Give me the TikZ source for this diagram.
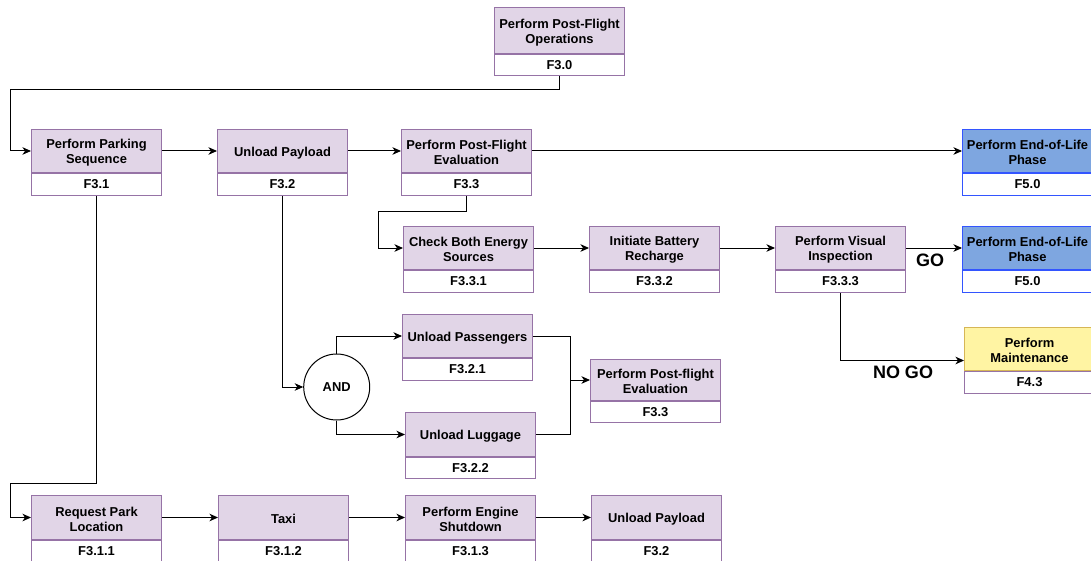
\documentclass[tikz,border=0pt]{standalone}
\usepackage{fontspec}
\setmainfont{Liberation Sans}
\usetikzlibrary{arrows.meta,calc}
\definecolor{pfill}{HTML}{E1D5E7}
\definecolor{pline}{HTML}{9673A6}
\definecolor{bfill}{HTML}{7EA6E0}
\definecolor{bline}{HTML}{3355FF}
\definecolor{yfill}{HTML}{FFF4A3}
\definecolor{yline}{HTML}{D6B656}
\tikzset{
  ttl/.style={draw=pline, fill=pfill, line width=1pt, minimum width=130,
    inner sep=0pt, anchor=north west},
  ttltext/.style={inner sep=0pt, align=center,
    font=\fontsize{12.9}{15}\selectfont\bfseries},
  idn/.style={draw=pline, fill=white, line width=1pt, minimum width=130,
    inner sep=0pt, anchor=north west,
    font=\fontsize{12.9}{15}\selectfont\bfseries},
  bluebox/.style={draw=bline, fill=bfill},
  yellowbox/.style={draw=yline, fill=yfill},
  flow/.style={line width=1pt, -{Stealth[length=8.5pt,width=7.5pt,inset=2.5pt]}},
  wire/.style={line width=1pt},
  verdict/.style={font=\fontsize{18}{20}\selectfont\bfseries},
}
% #1 name, #2 left, #3 top, #4 title height, #5 id height, #6 title, #7 id, #8 title style, #9 id style
\newcommand\funcblock[9]{%
  \node[ttl,#8,minimum height=#4] (#1) at (#2,#3) {};
  \node[ttltext] (#1-text) at ([yshift=-1.8]#1.center) {#6};
  \node[idn,#9,minimum height=#5] (#1-id) at (#1.south west) {#7};
  \coordinate (#1-mid) at ($(#1.north west)!0.5!(#1-id.south west)$);
}
\begin{document}
\begin{tikzpicture}[x=1pt,y=-1pt]
\useasboundingbox (0,0) rectangle (1091,561);

% top level
\funcblock{f30}{494}{7}{46}{21}{Perform Post-Flight\\Operations}{F3.0}{}{}

% first row
\funcblock{f31}{31}{129}{43}{22}{Perform Parking\\Sequence}{F3.1}{}{}
\funcblock{f32}{217}{129}{43}{22}{Unload Payload}{F3.2}{}{}
\funcblock{f33}{401}{129}{43}{22}{Perform Post-Flight\\Evaluation}{F3.3}{}{}
\funcblock{f50a}{962}{129}{43}{22}{Perform End-of-Life\\Phase}{F5.0}{bluebox}{draw=bline}

% evaluation branch
\funcblock{f331}{403}{226}{43}{22}{Check Both Energy\\Sources}{F3.3.1}{}{}
\funcblock{f332}{589}{226}{43}{22}{Initiate Battery\\Recharge}{F3.3.2}{}{}
\funcblock{f333}{775}{226}{43}{22}{Perform Visual\\Inspection}{F3.3.3}{}{}
\funcblock{f50b}{962}{226}{43}{22}{Perform End-of-Life\\Phase}{F5.0}{bluebox}{draw=bline}
\funcblock{f43}{964}{327}{43}{22}{Perform\\Maintenance}{F4.3}{yellowbox}{}

% unloading branch
\node[draw, line width=1pt, circle, minimum size=66, inner sep=0pt,
      font=\fontsize{12.9}{15}\selectfont\bfseries] (and) at (336.7,387) {AND};
\funcblock{f321}{402}{314}{43}{22}{Unload Passengers}{F3.2.1}{}{}
\funcblock{f322}{405}{412}{44}{21}{Unload Luggage}{F3.2.2}{}{}
\funcblock{f33b}{590}{359}{41}{21}{Perform Post-flight\\Evaluation}{F3.3}{}{}

% parking sequence
\funcblock{f311}{31}{495}{44}{21}{Request Park\\Location}{F3.1.1}{}{}
\funcblock{f312}{218}{495}{44}{21}{Taxi}{F3.1.2}{}{}
\funcblock{f313}{405}{495}{44}{21}{Perform Engine\\Shutdown}{F3.1.3}{}{}
\funcblock{f32b}{591}{495}{44}{21}{Unload Payload}{F3.2}{}{}

% bend points
\coordinate (topbend) at (10,90);
\coordinate (evalbend) at (378,212);
\coordinate (parkbend) at (10,483);
\coordinate (merge) at (570,0);

% connectors
\draw[flow] (f30-id.south) |- (topbend) |- (f31.west);
\draw[flow] (f31.east) -- (f32.west);
\draw[flow] (f32.east) -- (f33.west);
\draw[flow] (f33.east) -- (f50a.west);

\draw[flow] (f33-id.south) |- (evalbend) |- (f331.west);
\draw[flow] (f331.east) -- (f332.west);
\draw[flow] (f332.east) -- (f333.west);
\draw[flow] (f333.east) -- (f50b.west);
\draw[flow] (f333-id.south) |- (f43-mid);

\draw[flow] (f32-id.south) |- (and.west);
\draw[flow] (and.north) |- (f321.west);
\draw[flow] (and.south) |- (f322.west);
\draw[wire] (f321.east) -| (merge |- f33b.west);
\draw[wire] (f322.east) -| (merge |- f33b.west);
\draw[flow] (merge |- f33b.west) -- (f33b.west);

\draw[flow] (f31-id.south) |- (parkbend) |- (f311.west);
\draw[flow] (f311.east) -- (f312.west);
\draw[flow] (f312.east) -- (f313.west);
\draw[flow] (f313.east) -- (f32b.west);

% decision labels
\node[verdict] (go) at (930,260) {GO};
\node[verdict] (nogo) at (903,372) {NO GO};
\end{tikzpicture}
\end{document}
